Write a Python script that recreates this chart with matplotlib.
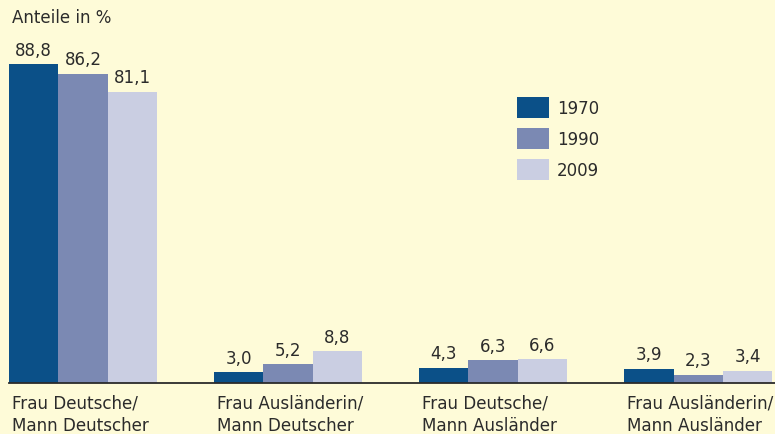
import matplotlib.pyplot as plt
import numpy as np

# Data
categories = ["Frau Deutsche/\nMann Deutscher", "Frau Ausländerin/\nMann Deutscher",
              "Frau Deutsche/\nMann Ausländer", "Frau Ausländerin/\nMann Ausländer"]
years = ["1970", "1990", "2009"]
values_1970 = [88.8, 3.0, 4.3, 3.9]
values_1990 = [86.2, 5.2, 6.3, 2.3]
values_2009 = [81.1, 8.8, 6.6, 3.4]

colors = ["#0b5088", "#7b89b3", "#cacee2"]
bg = "#fefbd8"
text_color = "#2b2b2b"

plt.rcParams['font.family'] = ['DejaVu Sans']

fig = plt.figure(figsize=(7.75, 4.35), dpi=100, facecolor=bg)
# axes placed in pixel terms: left edge x=9, baseline y=384, top y=0
ax = fig.add_axes([9 / 775, 51 / 435, 766 / 775, 384 / 435], facecolor=bg)

group_step = 4.16
x = np.arange(len(categories)) * group_step
series = [values_1970, values_1990, values_2009]
for j, (vals, year, col) in enumerate(zip(series, years, colors)):
    bars = ax.bar(x + j + 0.5, vals, width=1.0, color=col, label=year)
    ax.bar_label(bars, labels=[f"{v:.1f}".replace(".", ",") for v in vals],
                 padding=4, fontsize=12, color=text_color)

ax.set_xlim(0, 766 / 49.3)
ax.set_ylim(0, 384 / 3.59)

for s in ["top", "right", "left"]:
    ax.spines[s].set_visible(False)
ax.spines["bottom"].set_color(text_color)
ax.spines["bottom"].set_linewidth(1.3)
ax.set_yticks([])
ax.set_xticks(x + 0.06)
ax.set_xticklabels(categories, ha="left", fontsize=12.1, color=text_color, linespacing=1.3)
ax.tick_params(axis="x", length=0, pad=7.5)

fig.text(12 / 775, 1 - 18 / 435, "Anteile in %", fontsize=12, color=text_color, va="center")

leg = ax.legend(loc="upper left", bbox_to_anchor=(502 / 775, 1 - 83 / 435),
                bbox_transform=fig.transFigure, frameon=False, fontsize=12,
                handlelength=1.9, handleheight=1.6, labelspacing=0.56,
                handletextpad=0.5, labelcolor=text_color)

fig.savefig("out.png", dpi=100, facecolor=bg)
